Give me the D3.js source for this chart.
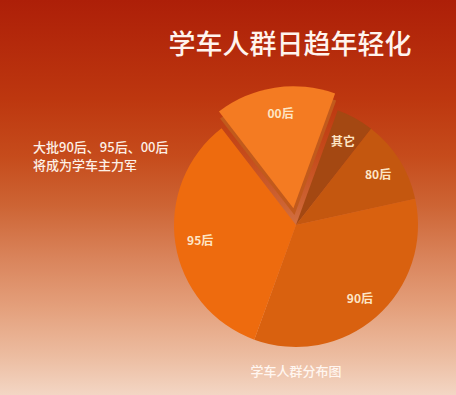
<!DOCTYPE html>
<html>
<head>
<meta charset="UTF-8">
<title></title>
<style type="text/css">
  body { margin: 0; padding: 0; }
  .box { width: 456px; height: 395px; position: relative; overflow: hidden; }
  text { font-family: "Noto Sans CJK SC", "Noto Sans", sans-serif; }
</style>
</head>
<body>
<div class="box"></div>
<script src="https://cdn.jsdelivr.net/npm/d3@7"></script>
<script type="text/javascript">
// 数据
var categories = ["其它", "80后", "90后", "95后", "00后"];
var values = [5, 11, 34, 34, 16];
var colors = ["#a44812", "#c4570f", "#d9610f", "#ee6b0e", "#f47b22"];
var title = "学车人群日趋年轻化";
var note = ["大批90后、95后、00后", "将成为学车主力军"];
var caption = "学车人群分布图";

var width = 456, height = 395;
var cx = 296, cy = 225, R = 122;

var svg = d3.select(".box").append("svg")
  .attr("width", width)
  .attr("height", height);

// 背景渐变
var defs = svg.append("defs");
var bg = defs.append("linearGradient").attr("id", "bg")
  .attr("x1", 0).attr("y1", 0).attr("x2", 0).attr("y2", 1);
[["0%", "#ad1f08"], ["25%", "#bd370f"], ["40%", "#c64c1c"], ["52%", "#cd6434"],
 ["65%", "#d9835a"], ["78%", "#e4a07c"], ["90%", "#ecbca0"], ["100%", "#f3d6c4"]]
  .forEach(function(s) { bg.append("stop").attr("offset", s[0]).attr("stop-color", s[1]); });
svg.append("rect").attr("width", width).attr("height", height).attr("fill", "url(#bg)");

var pie = d3.pie().sort(null).value(function(d) { return d; })
  .startAngle(20 * Math.PI / 180)
  .endAngle(380 * Math.PI / 180);
var arcs = pie(values);
var arc = d3.arc().innerRadius(0).outerRadius(R);
var labelArc = d3.arc().innerRadius(97).outerRadius(97);

var g = svg.append("g").attr("transform", "translate(" + cx + "," + cy + ")");

function offset(d, k) {
  var a = (d.startAngle + d.endAngle) / 2;
  return [Math.sin(a) * k, -Math.cos(a) * k];
}

arcs.forEach(function(d, i) {
  if (i === 4) {
    // 分离扇区的侧面
    var o1 = offset(d, 10);
    g.append("path").attr("d", arc(d)).attr("fill", "#c25a1c")
      .attr("transform", "translate(" + o1 + ")");
    var o2 = offset(d, 17);
    g.append("path").attr("d", arc(d)).attr("fill", colors[i])
      .attr("transform", "translate(" + o2 + ")");
  } else {
    g.append("path").attr("d", arc(d)).attr("fill", colors[i]);
  }
});

arcs.forEach(function(d, i) {
  var p = labelArc.centroid(d);
  if (i === 4) { var o = offset(d, 17); p = [p[0] + o[0] + 2, p[1] + o[1]]; }
  g.append("text")
    .attr("x", p[0]).attr("y", p[1])
    .attr("text-anchor", "middle")
    .attr("dominant-baseline", "central")
    .attr("font-size", 12)
    .attr("font-weight", "bold")
    .attr("fill", "#fde6c6")
    .text(categories[i]);
});

svg.append("text")
  .attr("x", 290).attr("y", 54)
  .attr("text-anchor", "middle")
  .attr("font-size", 27)
  .attr("font-weight", 500)
  .attr("fill", "#fff4ee")
  .text(title);

svg.selectAll(".note").data(note).enter().append("text")
  .attr("x", 33)
  .attr("y", function(d, i) { return 152 + i * 18; })
  .attr("font-size", 13)
  .attr("font-weight", 500)
  .attr("fill", "#fdf0e6")
  .text(function(d) { return d; });

svg.append("text")
  .attr("x", 296).attr("y", 376)
  .attr("text-anchor", "middle")
  .attr("font-size", 13)
  .attr("font-weight", 500)
  .attr("fill", "#fff6f0")
  .text(caption);
</script>
</body>
</html>
